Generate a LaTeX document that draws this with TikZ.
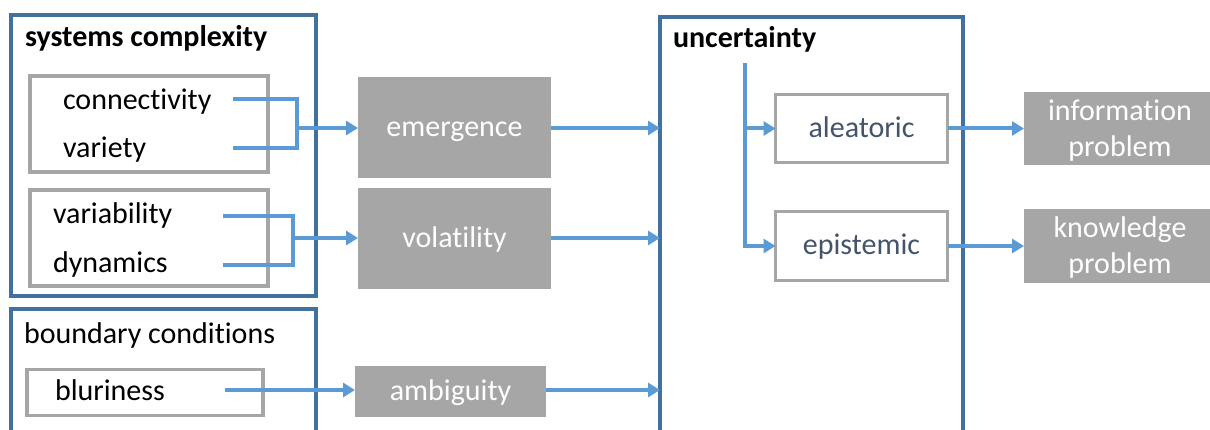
\documentclass[tikz,border=0pt]{standalone}
\usepackage{fontspec}
\setmainfont{Carlito}[Ligatures=NoCommon]
\usetikzlibrary{arrows.meta}
\definecolor{frameblue}{HTML}{41719C}
\definecolor{arrowblue}{HTML}{5B9BD5}
\definecolor{boxgray}{HTML}{A6A6A6}
\definecolor{slate}{HTML}{44546A}
\begin{document}
\begin{tikzpicture}[x=1pt,y=-1pt,
  every node/.style={inner sep=0pt, outer sep=0pt},
  txt/.style={font=\fontsize{30}{36}\selectfont, text=black},
  title/.style={font=\fontsize{30}{36}\selectfont\bfseries, text=black},
  oneline/.style={text height=18pt, text depth=0pt},
  groupframe/.style={draw=frameblue, line width=4pt, fill=white},
  itemframe/.style={draw=boxgray, line width=3.3pt, fill=white},
  outcome/.style={fill=boxgray, text=white, font=\fontsize{30}{36}\selectfont, align=center},
  link/.style={draw=arrowblue, line width=4pt, line join=miter},
  flow/.style={link, -{Triangle[length=12pt,width=14pt]}},
]
\useasboundingbox (0,0) rectangle (1210,430);
\clip (0,0) rectangle (1210,430);

% group frames
\node[groupframe, minimum width=305pt, minimum height=281pt] (sys) at (163.5,155.5) {};
\node[groupframe, minimum width=305pt, minimum height=161pt] (bnd) at (163.5,389.5) {};
\node[groupframe, minimum width=303pt, minimum height=453pt] (unc) at (811.5,243.5) {};

% item frames
\node[itemframe, minimum width=238pt, minimum height=96pt] (grpA) at (149,124) {};
\node[itemframe, minimum width=238pt, minimum height=96pt] (grpB) at (149,238) {};
\node[itemframe, minimum width=236pt, minimum height=46pt] (grpC) at (145,392.5) {};
\node[itemframe, minimum width=172pt, minimum height=68pt, txt, oneline, text=slate] (alea) at (861.5,128.5) {aleatoric};
\node[itemframe, minimum width=172pt, minimum height=69pt, txt, oneline, text=slate] (epis) at (861.5,246) {epistemic};

% titles and labels
\node[title, anchor=base west] (tsys) at (25,47) {systems complexity};
\node[txt, anchor=base west] (tbnd) at (24,343) {boundary conditions};
\node[title, anchor=base west] (tunc) at (673,48) {uncertainty};
\node[txt, anchor=base west] (conn) at (63,110) {connectivity};
\node[txt, anchor=base west] (vari) at (63,158) {variety};
\node[txt, anchor=base west] (vabl) at (53,224) {variability};
\node[txt, anchor=base west] (dyna) at (53,273) {dynamics};
\node[txt, anchor=base west] (blur) at (55,400) {bluriness};

% grey outcome boxes
\node[outcome, oneline, minimum width=193pt, minimum height=101pt] (emer) at (454.5,127.5) {emergence};
\node[outcome, oneline, minimum width=193pt, minimum height=101pt] (vola) at (454.5,238.5) {volatility};
\node[outcome, oneline, minimum width=191pt, minimum height=51pt] (ambi) at (450.5,391.5) {ambiguity};
\node[outcome, minimum width=192pt, minimum height=73pt] (info) at (1120,128.5) {};
\node[outcome, minimum width=192pt, minimum height=74pt] (know) at (1120,246) {};
\node[outcome, fill=none] (infotxt) at ([yshift=-2pt]info.center) {information\\problem};
\node[outcome, fill=none] (knowtxt) at ([yshift=-2pt]know.center) {knowledge\\problem};

% connector end points
\coordinate (connOut) at (233,99);
\coordinate (variOut) at (233,148);
\coordinate (forkA) at (297,128);
\coordinate (vablOut) at (223,216);
\coordinate (dynaOut) at (223,265);
\coordinate (forkB) at (293,238);
\coordinate (blurOut) at (225,390);
\coordinate (uncTop) at (745,63);

% connectors
\draw[link] (connOut) -| (forkA |- variOut) -- (variOut);
\draw[flow] (forkA) -- (emer.west |- forkA);
\draw[link] (vablOut) -| (forkB |- dynaOut) -- (dynaOut);
\draw[flow] (forkB) -- (vola.west |- forkB);
\draw[flow] (blurOut) -- (ambi.west |- blurOut);

\draw[flow] (emer.east |- forkA) -- (unc.west |- forkA);
\draw[flow] (vola.east |- forkB) -- (unc.west |- forkB);
\draw[flow] (ambi.east |- blurOut) -- (unc.west |- blurOut);

\draw[flow] (uncTop) |- (epis.west);
\draw[flow] (uncTop |- alea.west) -- (alea.west);
\draw[flow] (alea.east) -- (info.west);
\draw[flow] (epis.east) -- (know.west);
\end{tikzpicture}
\end{document}
